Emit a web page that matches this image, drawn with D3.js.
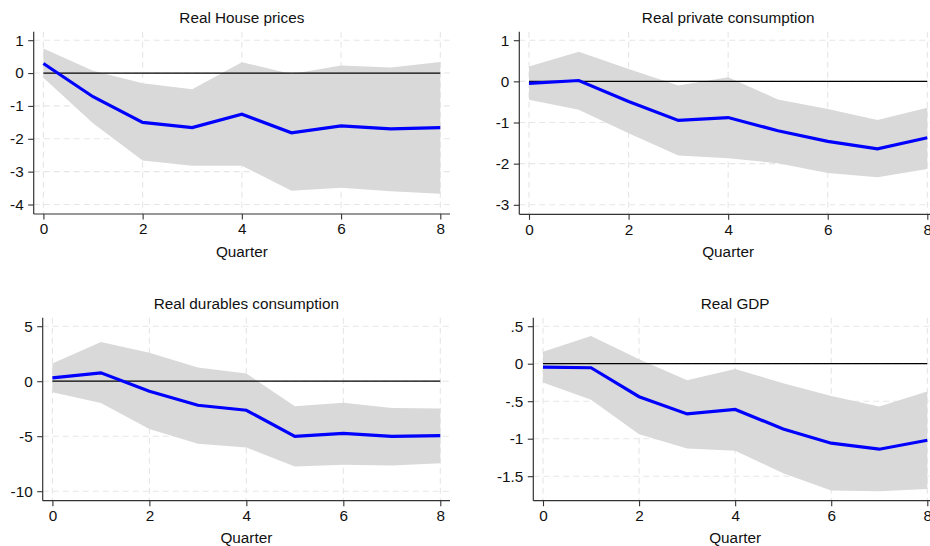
<!DOCTYPE html>
<html>
<head>
<meta charset="utf-8">
<script src="https://cdn.jsdelivr.net/npm/d3@7"></script>
<style>
  html, body { margin: 0; padding: 0; background: #fff; }
  svg { display: block; font-family: "Liberation Sans", Arial, sans-serif; }
</style>
</head>
<body>
<svg id="chart" width="930" height="546"></svg>
<script>
// Impulse responses over quarters 0..8: point estimate with confidence band
const quarters = [0, 1, 2, 3, 4, 5, 6, 7, 8];

const houseMean  = [0.29, -0.72, -1.50, -1.66, -1.25, -1.82, -1.61, -1.70, -1.66];
const houseUpper = [0.75, 0.07, -0.31, -0.49, 0.33, -0.03, 0.23, 0.17, 0.34];
const houseLower = [-0.14, -1.53, -2.66, -2.82, -2.82, -3.58, -3.49, -3.60, -3.67];

const consMean  = [-0.05, 0.02, -0.49, -0.95, -0.88, -1.20, -1.46, -1.64, -1.37];
const consUpper = [0.36, 0.72, 0.30, -0.10, 0.10, -0.44, -0.67, -0.94, -0.64];
const consLower = [-0.45, -0.69, -1.26, -1.80, -1.87, -1.99, -2.23, -2.33, -2.13];

const durMean  = [0.30, 0.76, -0.91, -2.19, -2.64, -5.02, -4.74, -5.02, -4.95];
const durUpper = [1.61, 3.56, 2.58, 1.25, 0.70, -2.28, -1.95, -2.43, -2.49];
const durLower = [-1.00, -1.98, -4.35, -5.68, -6.02, -7.75, -7.60, -7.66, -7.45];

const gdpMean  = [-0.045, -0.054, -0.44, -0.67, -0.61, -0.87, -1.06, -1.14, -1.02];
const gdpUpper = [0.16, 0.37, 0.06, -0.22, -0.07, -0.26, -0.43, -0.57, -0.37];
const gdpLower = [-0.25, -0.48, -0.94, -1.13, -1.16, -1.46, -1.69, -1.70, -1.67];

const titles = ["Real House prices", "Real private consumption",
                "Real durables consumption", "Real GDP"];
const xTicks = [0, 2, 4, 6, 8];
const xLabel = "Quarter";

const houseTicks = [1, 0, -1, -2, -3, -4];
const houseTickLabels = ["1", "0", "-1", "-2", "-3", "-4"];
const consTicks = [1, 0, -1, -2, -3];
const consTickLabels = ["1", "0", "-1", "-2", "-3"];
const durTicks = [5, 0, -5, -10];
const durTickLabels = ["5", "0", "-5", "-10"];
const gdpTicks = [0.5, 0, -0.5, -1, -1.5];
const gdpTickLabels = [".5", "0", "-.5", "-1", "-1.5"];

const panels = [
  { title: titles[0], mean: houseMean, upper: houseUpper, lower: houseLower,
    ticks: houseTicks, tickLabels: houseTickLabels,
    frame: { left: 33.7, right: 450, top: 31.7, bottom: 214 } },
  { title: titles[1], mean: consMean, upper: consUpper, lower: consLower,
    ticks: consTicks, tickLabels: consTickLabels,
    frame: { left: 519.3, right: 937, top: 31.7, bottom: 214.3 } },
  { title: titles[2], mean: durMean, upper: durUpper, lower: durLower,
    ticks: durTicks, tickLabels: durTickLabels,
    frame: { left: 42.7, right: 450, top: 317.7, bottom: 500.7 } },
  { title: titles[3], mean: gdpMean, upper: gdpUpper, lower: gdpLower,
    ticks: gdpTicks, tickLabels: gdpTickLabels,
    frame: { left: 533.3, right: 937, top: 317.7, bottom: 500.7 } }
];

const svg = d3.select("#chart");
const FONT = 15.3;
const padX = 9.7, padTop = 8.5, padBottom = 9.5;

panels.forEach(p => {
  const f = p.frame;
  const g = svg.append("g");

  const x = d3.scaleLinear().domain([0, 8]).range([f.left + padX, f.right - padX]);
  const yMin = d3.min([...p.ticks, ...p.lower]);
  const yMax = d3.max([...p.ticks, ...p.upper]);
  const y = d3.scaleLinear().domain([yMin, yMax]).range([f.bottom - padBottom, f.top + padTop]);

  // dashed grid
  g.append("g").selectAll("line.hg").data(p.ticks).join("line")
    .attr("x1", f.left).attr("x2", f.right)
    .attr("y1", d => y(d)).attr("y2", d => y(d))
    .attr("stroke", "#e6e6e6").attr("stroke-width", 1.1)
    .attr("stroke-dasharray", "6,4");
  g.append("g").selectAll("line.vg").data(xTicks).join("line")
    .attr("x1", d => x(d)).attr("x2", d => x(d))
    .attr("y1", f.top).attr("y2", f.bottom)
    .attr("stroke", "#e6e6e6").attr("stroke-width", 1.1)
    .attr("stroke-dasharray", "6,4");

  // confidence band
  const area = d3.area()
    .x((d, i) => x(quarters[i]))
    .y0((d, i) => y(p.lower[i]))
    .y1((d, i) => y(p.upper[i]));
  g.append("path").datum(quarters).attr("d", area).attr("fill", "#d9d9d9");

  // zero reference line
  g.append("line")
    .attr("x1", x(0)).attr("x2", x(8)).attr("y1", y(0)).attr("y2", y(0))
    .attr("stroke", "#000").attr("stroke-width", 1.3);

  // point estimate
  const line = d3.line().x((d, i) => x(quarters[i])).y((d, i) => y(p.mean[i]));
  g.append("path").datum(quarters).attr("d", line)
    .attr("fill", "none").attr("stroke", "#0000ff").attr("stroke-width", 3.2)
    .attr("stroke-linejoin", "miter");

  // axes
  const yAxis = d3.axisLeft(y).tickValues(p.ticks)
    .tickFormat((d, i) => p.tickLabels[i]).tickSize(5.5).tickPadding(4.5);
  const ya = g.append("g").attr("transform", `translate(${f.left},0)`).call(yAxis);
  ya.select(".domain").attr("d", `M0,${f.top}V${f.bottom}`);

  const xAxis = d3.axisBottom(x).tickValues(xTicks).tickFormat(d3.format("d"))
    .tickSize(5.5).tickPadding(4);
  const xa = g.append("g").attr("transform", `translate(0,${f.bottom})`).call(xAxis);
  xa.select(".domain").attr("d", `M${f.left},0H${f.right}`);

  [ya, xa].forEach(a => {
    a.selectAll(".domain").attr("stroke", "#333").attr("stroke-width", 1.2);
    a.selectAll(".tick line").attr("stroke", "#333").attr("stroke-width", 1.1);
    a.selectAll(".tick text").attr("fill", "#111").style("font-size", FONT + "px")
      .style("font-family", "'Liberation Sans', Arial, sans-serif");
  });

  // titles
  const cx = (f.left + f.right) / 2;
  g.append("text").attr("x", cx).attr("y", f.top - 9)
    .attr("text-anchor", "middle").attr("fill", "#111")
    .style("font-size", FONT + "px").text(p.title);
  g.append("text").attr("x", cx).attr("y", f.bottom + 42.7)
    .attr("text-anchor", "middle").attr("fill", "#111")
    .style("font-size", FONT + "px").text(xLabel);
});
</script>
</body>
</html>
